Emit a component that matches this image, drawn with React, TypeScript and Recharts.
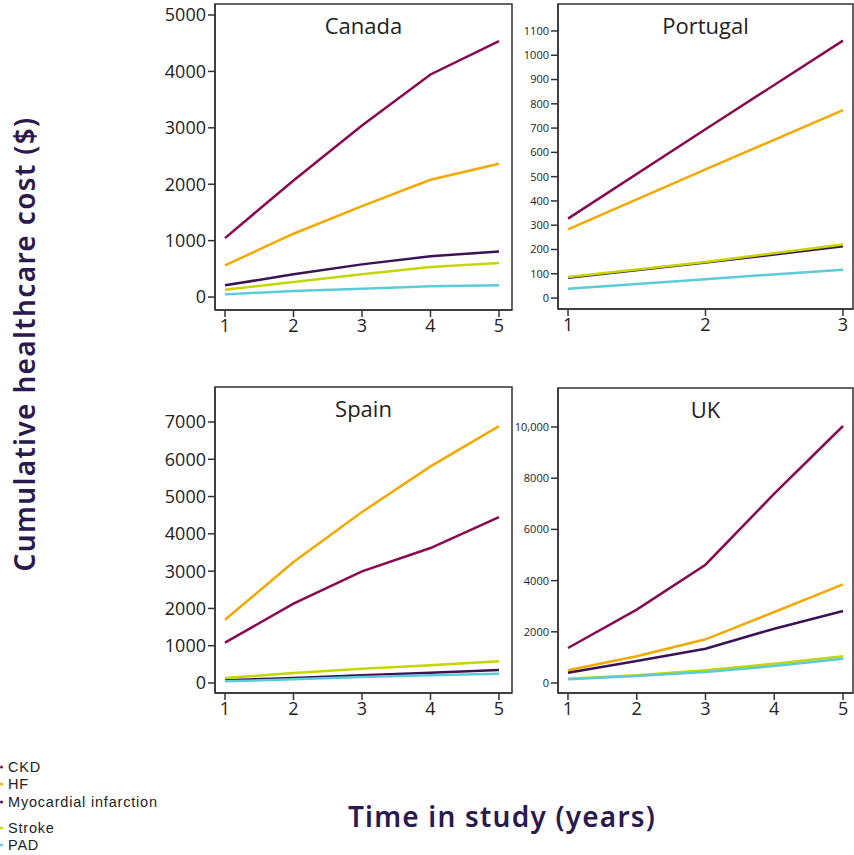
import React from 'react';
import { LineChart, Line, XAxis, YAxis, ReferenceArea } from 'recharts';

const seriesNames = ['CKD', 'HF', 'Myocardial infarction', 'Stroke', 'PAD'];
const seriesKeys = ['ckd', 'hf', 'mi', 'stroke', 'pad'];
const seriesColors = ['#870a52', '#f2a900', '#3b1255', '#c4d600', '#5ccbd9'];

// Canada, years 1-5
const canadaYears = [1, 2, 3, 4, 5];
const canadaCkd = [1045, 2067, 3042, 3946, 4536];
const canadaHf = [561, 1122, 1612, 2079, 2363];
const canadaMi = [207, 402, 579, 721, 809];
const canadaStroke = [130, 266, 402, 532, 602];
const canadaPad = [47, 106, 148, 189, 207];
const canadaTicks = [0, 1000, 2000, 3000, 4000, 5000];

// Portugal, years 1-3
const portugalYears = [1, 2, 3];
const portugalCkd = [327, 695, 1060];
const portugalHf = [283, 530, 774];
const portugalMi = [84, 146, 213];
const portugalStroke = [87, 149, 221];
const portugalPad = [38, 78, 117];
const portugalTicks = [0, 100, 200, 300, 400, 500, 600, 700, 800, 900, 1000, 1100];

// Spain, years 1-5
const spainYears = [1, 2, 3, 4, 5];
const spainCkd = [1081, 2127, 2994, 3619, 4450];
const spainHf = [1698, 3244, 4585, 5809, 6890];
const spainMi = [71, 134, 205, 277, 349];
const spainStroke = [134, 268, 384, 474, 581];
const spainPad = [45, 98, 161, 205, 250];
const spainTicks = [0, 1000, 2000, 3000, 4000, 5000, 6000, 7000];

// UK, years 1-5
const ukYears = [1, 2, 3, 4, 5];
const ukCkd = [1367, 2865, 4622, 7396, 10039];
const ukHf = [495, 1042, 1706, 2773, 3854];
const ukMi = [404, 859, 1341, 2122, 2813];
const ukStroke = [169, 300, 495, 755, 1042];
const ukPad = [143, 273, 430, 664, 951];
const ukTicks = [0, 2000, 4000, 6000, 8000, 10000];

const build = (years: number[], cols: number[][]) =>
  years.map((year, i) => {
    const row: any = { year };
    seriesKeys.forEach((k, j) => (row[k] = cols[j][i]));
    return row;
  });

const AXIS = '#333333';
const FONT = "'Open Sans', sans-serif";
const TITLE_FONT = "'Noto Sans', sans-serif";
const TITLE_COLOR = '#2b1a4d';

const Panel = ({ title, data, years, yTicks, yDomain, xDomain, yFont, yWidth, left, top, width, height, fmt }: any) => (
  <div style={{ position: 'absolute', left, top, width, height }}>
    <LineChart width={width} height={height} data={data} margin={{ top: 4, right: 1, bottom: 0, left: 0 }}>
      <XAxis
        dataKey="year"
        type="number"
        domain={xDomain}
        ticks={years}
        allowDataOverflow
        stroke={AXIS}
        strokeWidth={1.5}
        tickSize={7}
        height={30}
        tick={{ fill: '#222', fontSize: 18, fontFamily: FONT }}
      />
      <YAxis
        type="number"
        domain={yDomain}
        ticks={yTicks}
        allowDataOverflow
        interval={0}
        stroke={AXIS}
        strokeWidth={1.5}
        tickSize={7}
        width={yWidth}
        tickFormatter={fmt}
        tick={{ fill: '#222', fontSize: yFont, fontFamily: FONT }}
      />
      <ReferenceArea
        x1={xDomain[0]}
        x2={xDomain[1]}
        y1={yDomain[0]}
        y2={yDomain[1]}
        fill="none"
        fillOpacity={0}
        stroke={AXIS}
        strokeWidth={1.5}
        ifOverflow="visible"
      />
      {seriesKeys.map((k, i) => (
        <Line
          key={k}
          dataKey={k}
          name={seriesNames[i]}
          type="linear"
          stroke={seriesColors[i]}
          strokeWidth={2.5}
          dot={false}
          isAnimationActive={false}
        />
      ))}
    </LineChart>
    <div
      style={{
        position: 'absolute',
        left: yWidth,
        right: 1,
        top: 10,
        textAlign: 'center',
        fontFamily: FONT,
        fontSize: 22,
        color: '#222',
      }}
    >
      {title}
    </div>
  </div>
);

export default function App() {
  return (
    <div style={{ position: 'absolute', left: 0, top: 0, width: 854, height: 855, background: '#fff', overflow: 'hidden' }}>
      <Panel
        title="Canada"
        data={build(canadaYears, [canadaCkd, canadaHf, canadaMi, canadaStroke, canadaPad])}
        years={canadaYears}
        yTicks={canadaTicks}
        yDomain={[-230, 5195]}
        xDomain={[0.854, 5.19]}
        yFont={18}
        yWidth={65}
        left={150}
        top={0}
        width={363}
        height={340}
      />
      <Panel
        title="Portugal"
        data={build(portugalYears, [portugalCkd, portugalHf, portugalMi, portugalStroke, portugalPad])}
        years={portugalYears}
        yTicks={portugalTicks}
        yDomain={[-45, 1211]}
        xDomain={[0.927, 3.073]}
        yFont={11}
        yWidth={53}
        left={505}
        top={0}
        width={349}
        height={339}
      />
      <Panel
        title="Spain"
        data={build(spainYears, [spainCkd, spainHf, spainMi, spainStroke, spainPad])}
        years={spainYears}
        yTicks={spainTicks}
        yDomain={[-268, 7938]}
        xDomain={[0.854, 5.19]}
        yFont={18}
        yWidth={65}
        left={150}
        top={383}
        width={363}
        height={340}
      />
      <Panel
        title="UK"
        data={build(ukYears, [ukCkd, ukHf, ukMi, ukStroke, ukPad])}
        years={ukYears}
        yTicks={ukTicks}
        yDomain={[-390, 11523]}
        xDomain={[0.855, 5.145]}
        yFont={11}
        yWidth={53}
        left={505}
        top={384}
        width={349}
        height={339}
        fmt={(v: number) => (v >= 10000 ? v.toLocaleString('en-US') : String(v))}
      />
      <div
        style={{
          position: 'absolute',
          left: 24,
          top: 344,
          transform: 'translate(-50%, -50%) rotate(-90deg)',
          whiteSpace: 'nowrap',
          fontFamily: TITLE_FONT,
          fontWeight: 600,
          fontSize: 28,
          letterSpacing: 1.35,
          color: TITLE_COLOR,
        }}
      >
        Cumulative healthcare cost ($)
      </div>
      <div
        style={{
          position: 'absolute',
          left: 502,
          top: 816,
          transform: 'translate(-50%, -50%)',
          whiteSpace: 'nowrap',
          fontFamily: TITLE_FONT,
          fontWeight: 600,
          fontSize: 28,
          letterSpacing: 1.2,
          color: TITLE_COLOR,
        }}
      >
        Time in study (years)
      </div>
      {seriesNames.map((name, i) => (
        <div
          key={name}
          style={{
            position: 'absolute',
            left: 0,
            top: [767, 784, 802, 828, 845][i],
            transform: 'translateY(-50%)',
            display: 'flex',
            alignItems: 'center',
            fontFamily: "'Liberation Sans', Arial, sans-serif",
            fontSize: 14.5,
            lineHeight: '15px',
            letterSpacing: 0.8,
            color: '#222',
            whiteSpace: 'nowrap',
          }}
        >
          <span style={{ width: 3, height: 3, borderRadius: 2, background: seriesColors[i], marginRight: 5 }} />
          {name}
        </div>
      ))}
    </div>
  );
}
